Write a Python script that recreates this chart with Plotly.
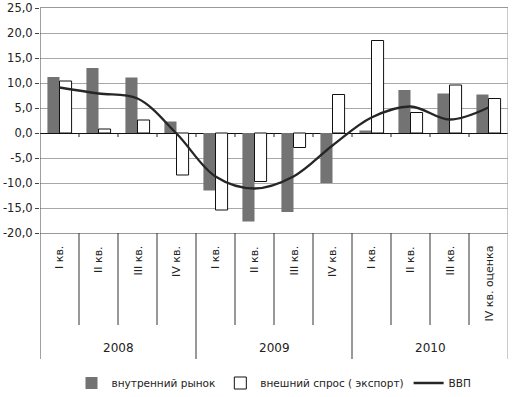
import plotly.graph_objects as go

# ---- data ----
years = ["2008", "2009", "2010"]
quarters = ["I кв.", "II кв.", "III кв.", "IV кв.",
            "I кв.", "II кв.", "III кв.", "IV кв.",
            "I кв.", "II кв.", "III кв.", "IV кв. оценка"]
domestic = [11.2, 13.0, 11.1, 2.3, -11.5, -17.7, -15.8, -10.0, 0.5, 8.6, 7.9, 7.7]
external = [10.4, 0.8, 2.6, -8.4, -15.4, -9.7, -2.9, 7.7, 18.5, 4.1, 9.6, 6.9]
gdp = [9.1, 7.9, 6.9, -0.1, -8.7, -11.1, -8.7, -2.5, 3.1, 5.3, 2.7, 5.1]
y_tick_vals = [25, 20, 15, 10, 5, 0, -5, -10, -15, -20]
y_tick_text = ["25,0", "20,0", "15,0", "10,0", "5,0", "0,0", "-5,0", "-10,0", "-15,0", "-20,0"]
series_names = ["внутренний рынок", "внешний спрос ( экспорт)", "ВВП"]

W, H = 514, 397
M_L, M_R, M_T, M_B = 40, 6, 8, 164
PLOT_H = H - M_T - M_B
BOTTOM_PX = H - M_B


def pp(py):
    """pixel y -> paper y"""
    return (BOTTOM_PX - py) / PLOT_H


FONT = "DejaVu Sans"
TXT = "#222222"
xs = list(range(len(quarters)))

fig = go.Figure()
fig.add_trace(go.Bar(x=xs, y=domestic, name=series_names[0],
                     marker=dict(color="#737373", line=dict(width=0))))
fig.add_trace(go.Bar(x=xs, y=external, name=series_names[1],
                     marker=dict(color="white", line=dict(color="#111111", width=1))))
fig.add_trace(go.Scatter(x=xs, y=gdp, name=series_names[2], mode="lines",
                         line=dict(color="#262626", width=2.3, shape="spline", smoothing=1)))

shapes = []
n = len(quarters)
for i in range(n + 1):
    xb = i - 0.5
    if i == 0:
        shapes.append(dict(type="line", xref="x", yref="paper", x0=xb, x1=xb,
                           y0=1, y1=pp(359), line=dict(color="#444444", width=1)))
    elif i == n:
        shapes.append(dict(type="line", xref="x", yref="paper", x0=xb, x1=xb,
                           y0=1, y1=pp(359), line=dict(color="#999999", width=1)))
    elif i % 4 == 0:
        shapes.append(dict(type="line", xref="x", yref="paper", x0=xb, x1=xb,
                           y0=0, y1=pp(359), line=dict(color="#333333", width=1)))
    else:
        shapes.append(dict(type="line", xref="x", yref="paper", x0=xb, x1=xb,
                           y0=0, y1=pp(325), line=dict(color="#333333", width=1)))
    if 0 < i < n:
        shapes.append(dict(type="line", xref="x", yref="y", x0=xb, x1=xb,
                           y0=0, y1=-0.8, line=dict(color="#222222", width=1)))

annotations = []
for i, q in enumerate(quarters):
    annotations.append(dict(x=i, y=pp(244), xref="x", yref="paper", text=q,
                            showarrow=False, textangle=-90, xanchor="center", yanchor="top",
                            font=dict(family=FONT, size=11, color=TXT)))
for k, yr in enumerate(years):
    annotations.append(dict(x=4 * k + 1.5, y=pp(348), xref="x", yref="paper", text=yr,
                            showarrow=False, xanchor="center", yanchor="middle",
                            font=dict(family=FONT, size=12, color=TXT)))

fig.update_layout(
    width=W, height=H,
    margin=dict(l=M_L, r=M_R, t=M_T, b=M_B, autoexpand=False),
    paper_bgcolor="white", plot_bgcolor="white",
    barmode="group", bargap=0.38, bargroupgap=0,
    font=dict(family=FONT, size=12, color=TXT),
    showlegend=True,
    legend=dict(orientation="h", x=0.5, xanchor="center", y=pp(383), yanchor="middle",
                font=dict(family=FONT, size=10.5, color=TXT),
                itemwidth=30, tracegroupgap=0, traceorder="normal"),
    shapes=shapes, annotations=annotations,
)
fig.update_xaxes(range=[-0.5, n - 0.5], showticklabels=False, showgrid=False,
                 zeroline=False, showline=True, linecolor="#999999", linewidth=1,
                 mirror=True, ticks="", automargin=False)
fig.update_yaxes(range=[-20, 25], tickvals=y_tick_vals, ticktext=y_tick_text,
                 showgrid=True, gridcolor="#a8a8a8", gridwidth=1,
                 zeroline=True, zerolinecolor="#111111", zerolinewidth=1,
                 showline=False, ticks="outside", ticklen=4, tickcolor="#444444",
                 automargin=False,
                 tickfont=dict(family=FONT, size=11.5, color=TXT))

fig.write_html("out.html", config={"displayModeBar": False},
               post_script="document.body.style.margin='0px';")
